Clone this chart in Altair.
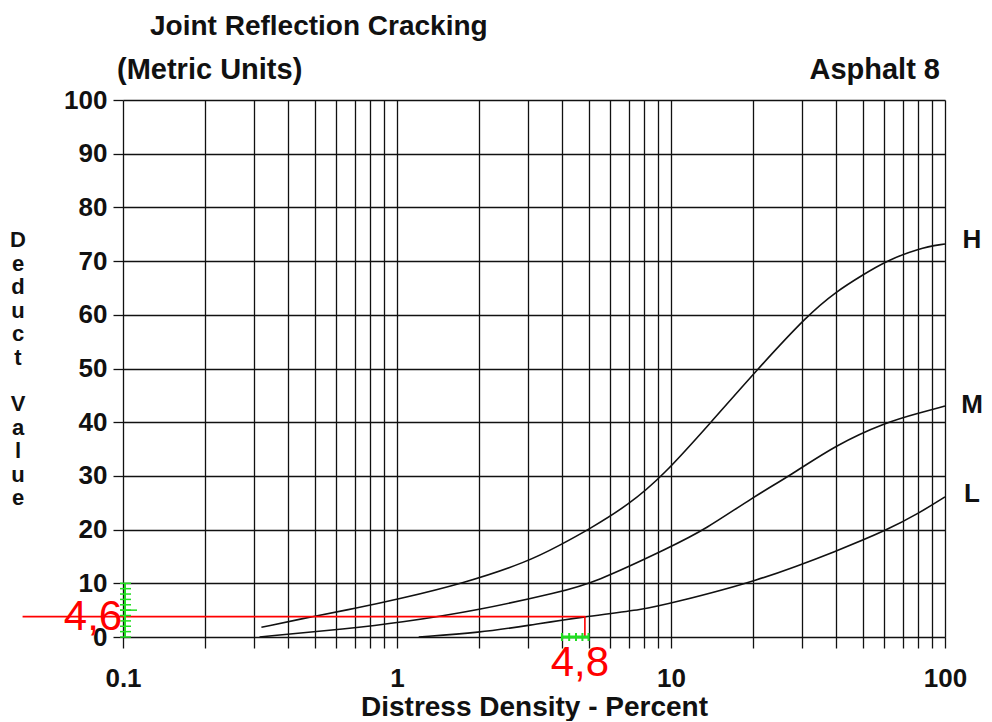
import altair as alt
import pandas as pd

# ---- data ----
h_x = [0.32, 0.5, 0.7, 1.0, 1.75, 3.0, 3.93, 5.0, 7.0, 9.35, 14.0, 20.8, 31.6, 40.0, 50.0, 61.0, 80.0, 100.0]
h_y = [1.8, 3.9, 5.3, 7.0, 10.0, 14.0, 17.1, 20.0, 24.6, 30.0, 40.0, 50.0, 60.0, 64.3, 67.4, 70.0, 72.4, 73.2]

m_x = [0.315, 0.67, 1.0, 2.0, 3.93, 5.2, 10.0, 13.3, 20.0, 27.1, 40.0, 61.0, 80.0, 100.0]
m_y = [0.0, 1.6, 2.6, 5.0, 8.4, 10.0, 16.8, 20.0, 26.1, 30.0, 35.8, 40.0, 41.7, 43.0]

l_x = [1.2, 2.0, 3.05, 4.7, 8.13, 10.0, 20.5, 41.2, 61.9, 80.0, 100.0]
l_y = [0.0, 0.8, 2.2, 3.7, 5.2, 6.3, 10.3, 16.2, 20.0, 23.0, 26.1]

severity = ["H", "M", "L"]
severity_label_y = [73.9, 43.2, 26.6]

x_ticks = [0.1, 0.2, 0.3, 0.4, 0.5, 0.6, 0.7, 0.8, 0.9,
           1, 2, 3, 4, 5, 6, 7, 8, 9,
           10, 20, 30, 40, 50, 60, 70, 80, 90, 100]
y_ticks = [0, 10, 20, 30, 40, 50, 60, 70, 80, 90, 100]

y_title_words = ["Deduct", "Value"]

# reader's annotation (red) and measuring marks (green)
read_x = [0.043, 4.85, 4.85]
read_y = [3.8, 3.8, 0.0]
read_value_label = "4,6"
read_density_label = "4,8"
green_y_ticks = [0, 1, 2, 3, 4, 5, 6, 7, 8, 9, 10]
green_x_ticks = [4.0, 4.25, 4.5, 4.75, 5.0]

FONT = "Liberation Sans"

rows = []
for name, xs_, ys_ in (("H", h_x, h_y), ("M", m_x, m_y), ("L", l_x, l_y)):
    for a, b in zip(xs_, ys_):
        rows.append({"sev": name, "x": a, "y": b})
curves = pd.DataFrame(rows)

xs = alt.Scale(type="log", domain=[0.1, 100], nice=False)
ys = alt.Scale(domain=[0, 100], nice=False, zero=False)

x_axis = alt.Axis(
    values=x_ticks,
    labelExpr="datum.value == 0.1 ? '0.1' : datum.value == 1 ? '1' : datum.value == 10 ? '10' : datum.value == 100 ? '100' : ''",
    grid=True, gridColor="#111", gridWidth=1.3,
    ticks=True, tickSize=11, tickColor="#111", tickWidth=1.3,
    domain=False,
    labelFont=FONT, labelFontSize=26, labelFontWeight="bold", labelColor="#111",
    labelPadding=17, labelFlush=False, labelOverlap=False,
    title="Distress Density - Percent",
    titleFont=FONT, titleFontSize=28, titleFontWeight="bold", titleColor="#111",
    titleY=78, titleBaseline="alphabetic",
)
y_axis = alt.Axis(
    values=y_ticks,
    grid=True, gridColor="#111", gridWidth=1.3,
    ticks=True, tickSize=10, tickColor="#111", tickWidth=1.3,
    domain=False,
    labelFont=FONT, labelFontSize=26, labelFontWeight="bold", labelColor="#111",
    labelPadding=6, labelFlush=False, labelOverlap=False,
    title=None,
)

X = lambda f="x": alt.X(f"{f}:Q", scale=xs, axis=x_axis)
Y = lambda f="y": alt.Y(f"{f}:Q", scale=ys, axis=y_axis)

lines = alt.Chart(curves).mark_line(color="#111", strokeWidth=1.6, interpolate="basis").encode(
    x=X(), y=Y(), detail="sev:N",
)

labels_df = pd.DataFrame({"sev": severity, "x": [100] * 3, "y": severity_label_y})
sev_labels = alt.Chart(labels_df).mark_text(
    font=FONT, fontSize=26, fontWeight="bold", color="#111", align="center", baseline="middle", dx=27
).encode(x=X(), y=Y(), text="sev:N")

read_df = pd.DataFrame({"x": read_x, "y": read_y, "o": [0, 1, 2]})
red_line = alt.Chart(read_df).mark_line(color="#ff0000", strokeWidth=1.6, clip=False).encode(
    x=X(), y=Y(), order="o:Q",
)

red_value = alt.Chart(pd.DataFrame({"x": [0.1], "y": [0.0], "t": [read_value_label]})).mark_text(
    font=FONT, fontSize=42, color="#ff0000", align="center", baseline="alphabetic", dx=-30, dy=-7
).encode(x=X(), y=Y(), text="t:N")
red_density = alt.Chart(pd.DataFrame({"x": [4.85], "y": [0.0], "t": [read_density_label]})).mark_text(
    font=FONT, fontSize=42, color="#ff0000", align="center", baseline="alphabetic", dx=-5, dy=39
).encode(x=X(), y=Y(), text="t:N")

GREEN = "#22dd22"
green_v = alt.Chart(pd.DataFrame({"x": [0.1], "y": [0], "y2": [10]})).mark_rule(
    color=GREEN, strokeWidth=2, xOffset=2, clip=False
).encode(x=X(), y=Y(), y2="y2:Q")
green_yt = alt.Chart(pd.DataFrame({"x": [0.1] * len(green_y_ticks), "y": green_y_ticks})).mark_rule(
    color=GREEN, strokeWidth=1.5, xOffset=-3, x2Offset=8, clip=False
).encode(x=X(), x2="x:Q", y=Y())
green_mid = alt.Chart(pd.DataFrame({"x": [0.1], "y": [5]})).mark_rule(
    color=GREEN, strokeWidth=1.5, xOffset=-3, x2Offset=14, clip=False
).encode(x=X(), x2="x:Q", y=Y())
green_h = alt.Chart(pd.DataFrame({"x": [4.0], "x2": [5.0], "y": [0]})).mark_rule(
    color=GREEN, strokeWidth=3, clip=False
).encode(x=X(), x2="x2:Q", y=Y())
green_xt = alt.Chart(pd.DataFrame({"x": green_x_ticks, "y": [0] * len(green_x_ticks)})).mark_rule(
    color=GREEN, strokeWidth=2, yOffset=-4, y2Offset=4, clip=False
).encode(x=X(), y=Y(), y2="y:Q")

def header(text, x, y, align, size):
    return alt.Chart(pd.DataFrame({"t": [text]})).mark_text(
        font=FONT, fontSize=size, fontWeight="bold", color="#111", align=align, baseline="alphabetic"
    ).encode(x=alt.value(x), y=alt.value(y), text="t:N")

def stacked(word, y):
    return alt.Chart(pd.DataFrame({"t": ["\n".join(word)]})).mark_text(
        font=FONT, fontSize=22, fontWeight="bold", color="#111", align="center", baseline="middle",
        lineBreak="\n", lineHeight=23.5,
    ).encode(x=alt.value(-105), y=alt.value(y), text="t:N")

titles = (
    header("Joint Reflection Cracking", 27, -65, "left", 28)
    + header("(Metric Units)", -6, -21, "left", 29)
    + header("Asphalt 8", 817, -21, "right", 29)
)

y_title = stacked(y_title_words[0], 140) + stacked(y_title_words[1], 304)

chart = alt.layer(
    lines, sev_labels, red_line, green_v, green_yt, green_mid, green_h, green_xt,
    red_value, red_density, titles, y_title,
).properties(
    width=822, height=537,
    autosize=alt.AutoSizeParams(type="none"),
    padding={"left": 115, "top": 92, "right": 39, "bottom": 84},
    background="white",
).configure_view(stroke=None)

chart.save("out.html", embed_options={"renderer": "svg", "actions": False})
